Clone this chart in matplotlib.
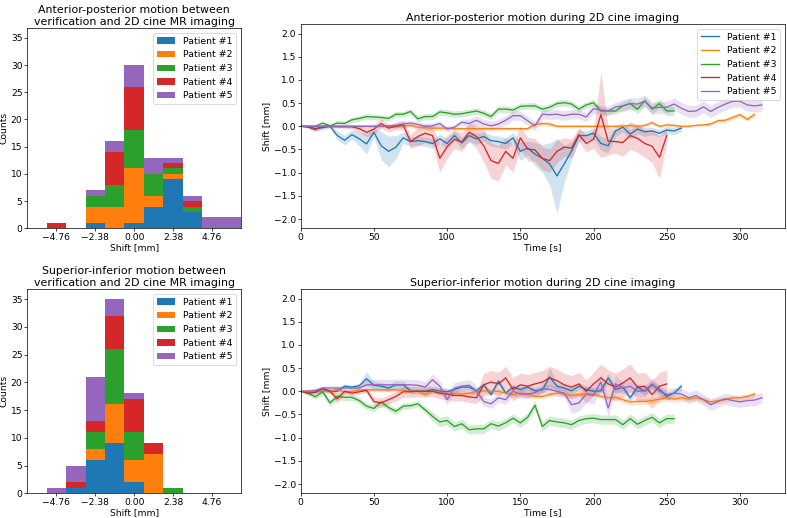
import numpy as np
import matplotlib
matplotlib.use("Agg")
import matplotlib.pyplot as plt

plt.rcParams["font.size"] = 10.4
plt.rcParams["legend.fontsize"] = 10.7

# histogram bins: width 1.19 mm, centred on multiples of 1.19
bin_width = 1.19
bin_centers = np.arange(-5, 6) * bin_width
bin_edges = np.arange(-5.5, 6.0, 1.0) * bin_width
hist_ticks = [-4.76, -2.38, 0.0, 2.38, 4.76]

patients = ["Patient #1", "Patient #2", "Patient #3", "Patient #4", "Patient #5"]

# counts per bin (11 bins, from -5.95 to 5.95)
ap_counts = [
    [0, 0, 0, 1, 0, 1, 4, 9, 3, 0, 0],
    [0, 0, 0, 3, 4, 10, 2, 1, 0, 0, 0],
    [0, 0, 0, 2, 4, 7, 4, 1, 1, 0, 0],
    [0, 1, 0, 0, 6, 8, 0, 1, 1, 0, 0],
    [0, 0, 0, 1, 2, 4, 3, 1, 1, 2, 2],
]
si_counts = [
    [0, 0, 1, 6, 9, 2, 0, 0, 0, 0, 0],
    [0, 0, 0, 2, 7, 4, 7, 0, 0, 0, 0],
    [0, 0, 0, 3, 10, 5, 0, 1, 0, 0, 0],
    [0, 0, 1, 2, 6, 6, 2, 0, 0, 0, 0],
    [0, 1, 3, 8, 3, 1, 0, 0, 0, 0, 0],
]

# 2D cine traces, one sample every 5 s
sample_step = 5
end_times = [260, 310, 255, 250, 315]

# anterior-posterior mean shift [mm]
ap_p1 = [0, 0, -0.05, -0.03, 0.0, -0.2, -0.3, -0.18, -0.27, -0.38,
         -0.13, -0.42, -0.54, -0.45, -0.25, -0.33, -0.31, -0.33, -0.37, -0.27,
         -0.37, -0.2, -0.36, -0.2, -0.27, -0.22, -0.31, -0.33, -0.37, -0.25,
         -0.54, -0.47, -0.6, -0.69, -0.81, -1.07, -0.81, -0.53, -0.2, -0.2,
         -0.15, -0.37, -0.42, -0.1, -0.02, -0.17, -0.06, -0.12, -0.1, -0.15,
         -0.08, -0.1, -0.04]
ap_p2 = [0, 0, 0, 0, 0, 0, 0, 0, 0, 0,
         0, 0, 0, 0, 0.01, 0.02, -0.02, -0.03, -0.04, -0.04,
         -0.04, -0.05, -0.05, -0.05, -0.05, -0.05, -0.05, -0.05, -0.05, -0.05,
         -0.05, -0.05, 0.04, 0.06, 0.05, 0.0, 0.0, 0.0, 0.0, 0.0,
         0.0, 0.0, 0.0, 0.0, 0.0, 0.02, 0.0, 0.02, 0.08, 0.0,
         0.03, 0.02, 0.0, 0.0, 0.02, 0.03, 0.05, 0.12, 0.13, 0.19,
         0.25, 0.15, 0.26]
ap_p3 = [0, 0, 0.0, 0.07, 0.01, 0.07, 0.06, 0.14, 0.17, 0.21,
         0.2, 0.19, 0.17, 0.26, 0.26, 0.32, 0.16, 0.21, 0.21, 0.31,
         0.29, 0.26, 0.27, 0.3, 0.33, 0.28, 0.21, 0.37, 0.37, 0.35,
         0.43, 0.44, 0.44, 0.37, 0.41, 0.49, 0.51, 0.48, 0.37, 0.46,
         0.51, 0.33, 0.33, 0.33, 0.44, 0.49, 0.37, 0.55, 0.37, 0.49,
         0.33, 0.33]
ap_p4 = [0, -0.02, -0.07, 0.0, 0.0, -0.01, -0.01, -0.01, -0.05, -0.13,
         -0.06, 0.06, -0.04, 0.0, 0.03, -0.33, -0.22, -0.15, -0.2, -0.69,
         -0.44, -0.28, -0.34, -0.13, -0.22, -0.42, -0.74, -0.8, -0.54, -0.69,
         -0.25, -0.49, -0.51, -0.69, -0.74, -0.54, -0.45, -0.47, -0.18, -0.37,
         -0.28, 0.25, -0.32, -0.33, -0.35, -0.2, -0.26, -0.37, -0.43, -0.67,
         -0.2]
ap_p5 = [0, 0, 0, 0, 0, 0, 0, 0, 0, 0,
         0, 0, 0.01, 0.02, 0.05, 0.07, 0.04, 0.0, 0.01, 0.06,
         -0.06, -0.02, 0.09, 0.06, 0.13, 0.05, 0.01, 0.05, 0.13, 0.23,
         0.23, 0.12, 0.01, 0.26, 0.25, 0.26, 0.23, 0.26, 0.26, 0.2,
         0.38, 0.35, 0.33, 0.42, 0.44, 0.49, 0.48, 0.54, 0.39, 0.41,
         0.41, 0.48, 0.39, 0.32, 0.33, 0.42, 0.32, 0.41, 0.48, 0.54,
         0.54, 0.46, 0.44, 0.46]

# anterior-posterior band half width [mm]
ap_p1_sd = [0, 0.02, 0.05, 0.05, 0.03, 0.1, 0.1, 0.1, 0.15, 0.22,
            0.1, 0.3, 0.33, 0.25, 0.12, 0.1, 0.1, 0.1, 0.1, 0.1,
            0.12, 0.1, 0.12, 0.12, 0.12, 0.1, 0.12, 0.12, 0.12, 0.12,
            0.2, 0.15, 0.25, 0.3, 0.45, 0.8, 0.4, 0.2, 0.12, 0.1,
            0.12, 0.15, 0.15, 0.12, 0.1, 0.1, 0.1, 0.1, 0.08, 0.08,
            0.08, 0.08, 0.08]
ap_p2_sd = [0, 0.01, 0.01, 0.01, 0.01, 0.01, 0.01, 0.01, 0.01, 0.01,
            0.01, 0.01, 0.02, 0.02, 0.03, 0.05, 0.05, 0.05, 0.05, 0.05,
            0.04, 0.03, 0.03, 0.03, 0.03, 0.03, 0.03, 0.03, 0.03, 0.03,
            0.03, 0.03, 0.05, 0.05, 0.05, 0.03, 0.03, 0.03, 0.03, 0.03,
            0.03, 0.03, 0.03, 0.03, 0.03, 0.03, 0.03, 0.03, 0.04, 0.03,
            0.03, 0.03, 0.03, 0.03, 0.03, 0.03, 0.04, 0.04, 0.05, 0.05,
            0.05, 0.05, 0.05]
ap_p3_sd = [0, 0.01, 0.03, 0.04, 0.03, 0.06, 0.06, 0.06, 0.06, 0.06,
            0.06, 0.06, 0.06, 0.06, 0.06, 0.06, 0.07, 0.07, 0.07, 0.07,
            0.07, 0.07, 0.07, 0.07, 0.07, 0.07, 0.07, 0.07, 0.07, 0.07,
            0.07, 0.07, 0.07, 0.07, 0.07, 0.07, 0.07, 0.07, 0.07, 0.07,
            0.07, 0.07, 0.07, 0.07, 0.1, 0.1, 0.1, 0.1, 0.1, 0.1,
            0.1, 0.1]
ap_p4_sd = [0, 0.02, 0.05, 0.03, 0.03, 0.03, 0.03, 0.05, 0.08, 0.1,
            0.1, 0.1, 0.08, 0.08, 0.1, 0.15, 0.2, 0.2, 0.2, 0.3,
            0.25, 0.2, 0.2, 0.2, 0.25, 0.35, 0.38, 0.38, 0.3, 0.3,
            0.25, 0.25, 0.25, 0.25, 0.25, 0.25, 0.2, 0.2, 0.15, 0.18,
            0.2, 0.92, 0.3, 0.25, 0.3, 0.3, 0.3, 0.3, 0.35, 0.45,
            0.15]
ap_p5_sd = [0, 0.02, 0.03, 0.03, 0.03, 0.03, 0.03, 0.03, 0.03, 0.03,
            0.03, 0.03, 0.03, 0.06, 0.06, 0.06, 0.06, 0.06, 0.06, 0.06,
            0.06, 0.06, 0.06, 0.1, 0.1, 0.1, 0.1, 0.1, 0.1, 0.1,
            0.1, 0.1, 0.1, 0.1, 0.1, 0.1, 0.1, 0.1, 0.1, 0.1,
            0.1, 0.1, 0.1, 0.1, 0.13, 0.13, 0.13, 0.13, 0.13, 0.13,
            0.13, 0.13, 0.13, 0.13, 0.13, 0.13, 0.13, 0.13, 0.13, 0.13,
            0.13, 0.13, 0.13, 0.13]

# superior-inferior mean shift [mm]
si_p1 = [0, 0, -0.02, 0.05, 0.0, 0.0, 0.11, 0.09, 0.12, 0.27,
         0.13, 0.11, 0.07, 0.14, 0.14, 0.01, 0.0, 0.0, 0.04, 0.0,
         -0.01, 0.04, 0.09, 0.09, 0.01, 0.14, -0.07, 0.22, -0.04, 0.09,
         0.04, 0.09, 0.01, 0.03, 0.31, 0.11, 0.07, 0.01, 0.11, 0.04,
         0.0, 0.01, 0.29, 0.04, 0.09, -0.14, 0.09, 0.0, 0.14, 0.04,
         -0.11, -0.04, 0.11]
si_p2 = [0, 0, 0, 0, 0, 0.04, -0.02, 0.0, 0.03, 0.03,
         0.03, 0.03, 0.03, 0.03, 0.02, 0.0, 0.0, -0.07, 0.0, -0.02,
         -0.06, -0.05, -0.06, -0.04, 0.0, 0.01, 0.0, 0.0, -0.04, -0.07,
         -0.04, -0.06, -0.11, -0.11, -0.07, -0.04, -0.06, -0.09, -0.07, -0.06,
         -0.07, -0.11, -0.14, -0.13, -0.18, -0.23, -0.22, -0.22, -0.2, -0.17,
         -0.14, -0.17, -0.14, -0.17, -0.14, -0.18, -0.23, -0.2, -0.18, -0.14,
         -0.14, -0.11, -0.06]
si_p3 = [0, -0.04, -0.12, -0.01, -0.25, -0.11, -0.13, -0.13, -0.2, -0.32,
         -0.37, -0.23, -0.35, -0.43, -0.32, -0.31, -0.27, -0.4, -0.54, -0.66,
         -0.63, -0.76, -0.7, -0.83, -0.81, -0.81, -0.7, -0.75, -0.68, -0.58,
         -0.68, -0.56, -0.3, -0.76, -0.63, -0.66, -0.68, -0.72, -0.63, -0.59,
         -0.58, -0.61, -0.61, -0.61, -0.72, -0.59, -0.71, -0.63, -0.56, -0.68,
         -0.59, -0.59]
si_p4 = [0, -0.04, -0.02, 0.06, 0.0, -0.16, 0.0, -0.04, -0.01, 0.02,
         -0.22, -0.25, -0.18, -0.11, -0.01, -0.01, 0.0, 0.0, 0.0, -0.04,
         -0.06, -0.09, -0.09, -0.12, -0.14, 0.14, 0.2, 0.16, 0.29, 0.04,
         0.14, 0.11, 0.16, 0.2, 0.29, 0.23, 0.14, 0.09, 0.16, 0.0,
         0.16, 0.29, 0.16, 0.09, 0.18, 0.29, 0.09, 0.11, -0.07, 0.11,
         0.16]
si_p5 = [0, 0, 0.02, 0.07, 0.07, 0.07, 0.07, 0.07, 0.07, 0.14,
         0.14, 0.14, 0.14, 0.14, 0.14, 0.14, 0.13, 0.09, 0.25, 0.11,
         -0.18, 0.07, 0.11, 0.13, 0.01, -0.22, -0.27, -0.14, -0.18, 0.0,
         -0.06, -0.06, -0.03, 0.06, 0.04, 0.0, -0.04, -0.29, -0.25, -0.06,
         -0.09, 0.2, -0.36, 0.16, 0.07, 0.11, 0.0, 0.01, 0.16, 0.0,
         -0.07, -0.04, -0.06, -0.14, -0.09, -0.18, -0.29, -0.22, -0.16, -0.2,
         -0.23, -0.2, -0.19, -0.14]

# superior-inferior band half width [mm]
si_p1_sd = [0, 0.02, 0.03, 0.05, 0.05, 0.05, 0.05, 0.05, 0.05, 0.15,
            0.08, 0.08, 0.08, 0.08, 0.08, 0.06, 0.06, 0.06, 0.06, 0.06,
            0.06, 0.06, 0.06, 0.06, 0.06, 0.06, 0.06, 0.06, 0.06, 0.06,
            0.06, 0.06, 0.06, 0.06, 0.2, 0.08, 0.08, 0.08, 0.08, 0.08,
            0.08, 0.08, 0.1, 0.08, 0.08, 0.08, 0.08, 0.08, 0.08, 0.08,
            0.08, 0.08, 0.08]
si_p2_sd = [0, 0.02, 0.03, 0.04, 0.04, 0.04, 0.04, 0.04, 0.04, 0.04,
            0.04, 0.04, 0.04, 0.04, 0.04, 0.04, 0.04, 0.05, 0.05, 0.05,
            0.05, 0.05, 0.05, 0.05, 0.05, 0.05, 0.05, 0.05, 0.05, 0.05,
            0.05, 0.05, 0.05, 0.05, 0.05, 0.05, 0.05, 0.05, 0.05, 0.05,
            0.05, 0.05, 0.05, 0.05, 0.07, 0.07, 0.07, 0.07, 0.07, 0.07,
            0.07, 0.07, 0.07, 0.06, 0.06, 0.06, 0.06, 0.06, 0.06, 0.06,
            0.06, 0.06, 0.06]
si_p3_sd = [0, 0.03, 0.05, 0.07, 0.07, 0.07, 0.07, 0.07, 0.07, 0.07,
            0.07, 0.07, 0.07, 0.07, 0.07, 0.07, 0.07, 0.07, 0.1, 0.1,
            0.1, 0.1, 0.1, 0.1, 0.1, 0.1, 0.1, 0.1, 0.1, 0.1,
            0.1, 0.1, 0.1, 0.1, 0.1, 0.1, 0.1, 0.1, 0.1, 0.1,
            0.1, 0.1, 0.1, 0.1, 0.1, 0.1, 0.1, 0.1, 0.1, 0.1,
            0.1, 0.1]
si_p4_sd = [0, 0.05, 0.05, 0.05, 0.05, 0.1, 0.05, 0.05, 0.05, 0.05,
            0.1, 0.1, 0.1, 0.1, 0.12, 0.12, 0.12, 0.12, 0.12, 0.12,
            0.12, 0.12, 0.12, 0.12, 0.12, 0.25, 0.25, 0.25, 0.25, 0.25,
            0.25, 0.25, 0.25, 0.25, 0.25, 0.25, 0.25, 0.25, 0.25, 0.25,
            0.25, 0.3, 0.3, 0.3, 0.3, 0.3, 0.3, 0.3, 0.3, 0.3,
            0.3]
si_p5_sd = [0, 0.05, 0.05, 0.05, 0.05, 0.05, 0.05, 0.05, 0.05, 0.12,
            0.12, 0.12, 0.12, 0.12, 0.12, 0.12, 0.12, 0.12, 0.12, 0.12,
            0.12, 0.12, 0.12, 0.12, 0.12, 0.1, 0.1, 0.1, 0.1, 0.1,
            0.1, 0.1, 0.1, 0.1, 0.1, 0.1, 0.1, 0.18, 0.18, 0.18,
            0.18, 0.18, 0.18, 0.18, 0.12, 0.12, 0.12, 0.12, 0.12, 0.12,
            0.12, 0.12, 0.12, 0.12, 0.12, 0.12, 0.12, 0.12, 0.12, 0.12,
            0.12, 0.12, 0.12, 0.12]

ap_means = [ap_p1, ap_p2, ap_p3, ap_p4, ap_p5]
ap_sds = [ap_p1_sd, ap_p2_sd, ap_p3_sd, ap_p4_sd, ap_p5_sd]
si_means = [si_p1, si_p2, si_p3, si_p4, si_p5]
si_sds = [si_p1_sd, si_p2_sd, si_p3_sd, si_p4_sd, si_p5_sd]

colors = ["C0", "C1", "C2", "C3", "C4"]

W, H = 787, 518
dpi = 63
fig = plt.figure(figsize=(W / dpi, H / dpi), dpi=dpi)

ax_ap_hist = fig.add_axes([27.3 / W, 1 - 228.3 / H, 213.7 / W, 200 / H])
ax_si_hist = fig.add_axes([27.3 / W, 1 - 493.3 / H, 213.7 / W, 204 / H])
ax_ap_line = fig.add_axes([300.7 / W, 1 - 228.3 / H, 484.3 / W, 204 / H])
ax_si_line = fig.add_axes([300.7 / W, 1 - 493.3 / H, 484.3 / W, 204 / H])


def draw_hist(ax, counts, title):
    ax.hist([bin_centers] * len(counts), bins=bin_edges, weights=counts,
            stacked=True, color=colors, label=patients)
    ax.set_xlim(bin_edges[0], bin_edges[-1])
    ax.set_ylim(0, 36.75)
    ax.set_xticks(hist_ticks)
    ax.set_xticklabels([("%.2f" % t).replace("-", "\u2212") for t in hist_ticks])
    ax.set_yticks(range(0, 36, 5))
    ax.tick_params(pad=2)
    ax.set_xlabel("Shift [mm]", labelpad=1)
    ax.set_ylabel("Counts", labelpad=2)
    ax.set_title(title, fontsize=12.6, pad=4)
    ax.legend(loc="upper right")


def draw_traces(ax, means, sds, title, legend):
    for i in range(len(means)):
        t = np.arange(0, end_times[i] + 1, sample_step)
        m = np.array(means[i])
        s = np.array(sds[i])
        ax.plot(t, m, color=colors[i], lw=1.5, label=patients[i])
        ax.fill_between(t, m - s, m + s, color=colors[i], alpha=0.2, lw=0)
    ax.set_xlim(0, 330.75)
    ax.set_ylim(-2.2, 2.2)
    ax.set_yticks(np.arange(-2.0, 2.01, 0.5))
    ax.tick_params(pad=2)
    ax.set_xlabel("Time [s]", labelpad=1)
    ax.set_ylabel("Shift [mm]", labelpad=3)
    ax.set_title(title, fontsize=12.6, pad=4)
    if legend:
        ax.legend(loc="upper right")


draw_hist(ax_ap_hist, ap_counts,
          "Anterior-posterior motion between\nverification and 2D cine MR imaging")
draw_hist(ax_si_hist, si_counts,
          "Superior-inferior motion between\nverification and 2D cine MR imaging")
draw_traces(ax_ap_line, ap_means, ap_sds,
            "Anterior-posterior motion during 2D cine imaging", True)
draw_traces(ax_si_line, si_means, si_sds,
            "Superior-inferior motion during 2D cine imaging", False)

fig.savefig("out.png", dpi=dpi)
